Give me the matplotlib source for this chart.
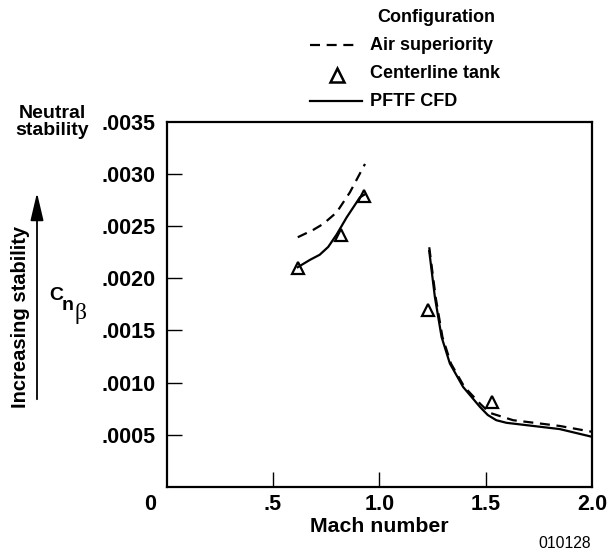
import matplotlib
matplotlib.use("Agg")
import matplotlib.pyplot as plt
from matplotlib.lines import Line2D
from matplotlib.patches import FancyArrowPatch

plt.rcParams['font.family'] = ['Liberation Sans', 'DejaVu Sans']

# ---- data ----
air_sub_mach = [0.617, 0.690, 0.737, 0.800, 0.862, 0.933]
air_sub_cn = [0.002393, 0.002464, 0.002521, 0.002632, 0.002823, 0.003095]

cfd_sub_mach = [0.617, 0.675, 0.720, 0.760, 0.800, 0.847, 0.909, 0.930]
cfd_sub_cn = [0.002106, 0.002177, 0.002225, 0.002300, 0.002420, 0.002584, 0.002775, 0.002801]

air_sup_mach = [1.235, 1.265, 1.297, 1.337, 1.400, 1.478, 1.520, 1.629, 1.848, 2.000]
air_sup_cn = [0.002297, 0.001820, 0.001437, 0.001183, 0.000959, 0.000790, 0.000710, 0.000640, 0.000585, 0.000529]

cfd_sup_mach = [1.235, 1.2615, 1.293, 1.332, 1.394, 1.473, 1.510, 1.550, 1.598, 1.848, 2.000]
cfd_sup_cn = [0.002260, 0.001820, 0.001437, 0.001183, 0.000959, 0.000768, 0.000690, 0.000640, 0.000615, 0.000555, 0.000481]

tank_mach = [0.617, 0.820, 0.930, 1.230, 1.528]
tank_cn = [0.00210, 0.00241, 0.00279, 0.00170, 0.00081]

xticks = [0.5, 1.0, 1.5, 2.0]
xticklabels = ['.5', '1.0', '1.5', '2.0']
yticks = [0.0005, 0.0010, 0.0015, 0.0020, 0.0025, 0.0030, 0.0035]
yticklabels = ['.0005', '.0010', '.0015', '.0020', '.0025', '.0030', '.0035']

W, H = 615, 552
fig = plt.figure(figsize=(W / 100, H / 100), dpi=100)
ax = fig.add_axes([166.5 / W, 1 - 487 / H, (592 - 166.5) / W, (487 - 121.7) / H])

dash = (0, (4.5, 3))
lw = 1.6
ax.plot(air_sub_mach, air_sub_cn, color='black', lw=lw, linestyle=dash)
ax.plot(air_sup_mach, air_sup_cn, color='black', lw=lw, linestyle=dash)
ax.plot(cfd_sub_mach, cfd_sub_cn, color='black', lw=lw)
ax.plot(cfd_sup_mach, cfd_sup_cn, color='black', lw=lw)
ax.plot(tank_mach, tank_cn, linestyle='none', marker='^', markersize=9,
        markerfacecolor='none', markeredgecolor='black', markeredgewidth=1.6)

ax.set_xlim(0, 2.0)
ax.set_ylim(0, 0.0035)
ax.set_xticks(xticks)
ax.set_xticklabels(xticklabels, fontsize=15.5, fontweight='bold')
ax.set_yticks(yticks)
ax.set_yticklabels(yticklabels, fontsize=15.5, fontweight='bold')
ax.tick_params(axis='both', direction='in', length=11, width=1.0)
ax.tick_params(axis='y', pad=8)
ax.tick_params(axis='x', pad=5)
for s in ax.spines.values():
    s.set_linewidth(1.6)
ax.xaxis.get_major_ticks()[-1].tick1line.set_visible(False)
ax.yaxis.get_major_ticks()[-1].tick1line.set_visible(False)

def px(x, y):
    return x / W, 1 - y / H

fig.text(*px(150, 505), '0', fontsize=15.5, fontweight='bold', ha='center', va='center')
fig.text(*px(379, 526), 'Mach number', fontsize=15.3, fontweight='bold', ha='center', va='center')
fig.text(*px(565, 543), '010128', fontsize=11.3, ha='center', va='center')

fig.text(*px(52, 122), 'Neutral\nstability', fontsize=14, fontweight='bold',
         ha='center', va='center', linespacing=0.95)
fig.text(*px(21, 317), 'Increasing stability', fontsize=14.5, fontweight='bold',
         rotation=90, ha='center', va='center')
fig.add_artist(FancyArrowPatch(
    px(37, 402), px(37, 190), transform=fig.transFigure,
    arrowstyle='-|>,head_length=17,head_width=4', mutation_scale=1, color='black', lw=1.3))
fig.text(*px(49, 296), 'C', fontsize=14, fontweight='bold', ha='left', va='center')
fig.text(*px(62, 306), 'n', fontsize=14, fontweight='bold', ha='left', va='center')
fig.text(*px(75, 313), 'β', fontsize=17, family=['Liberation Serif', 'DejaVu Serif'],
         ha='left', va='center')

# legend
fig.text(*px(436, 17), 'Configuration', fontsize=13, fontweight='bold', ha='center', va='center')
fig.add_artist(Line2D([310 / W, 358 / W], [1 - 45 / H] * 2, color='black', lw=lw, linestyle=dash))
fig.text(*px(370, 45), 'Air superiority', fontsize=13, fontweight='bold', ha='left', va='center')
fig.add_artist(Line2D([337 / W], [1 - 75 / H], color='black', marker='^', markersize=10,
                      markerfacecolor='none', markeredgewidth=1.8, linestyle='none'))
fig.text(*px(370, 74), 'Centerline tank', fontsize=13, fontweight='bold', ha='left', va='center')
fig.add_artist(Line2D([310 / W, 362 / W], [1 - 101 / H] * 2, color='black', lw=lw))
fig.text(*px(370, 101), 'PFTF CFD', fontsize=13, fontweight='bold', ha='left', va='center')

fig.savefig('out.png', dpi=100)
